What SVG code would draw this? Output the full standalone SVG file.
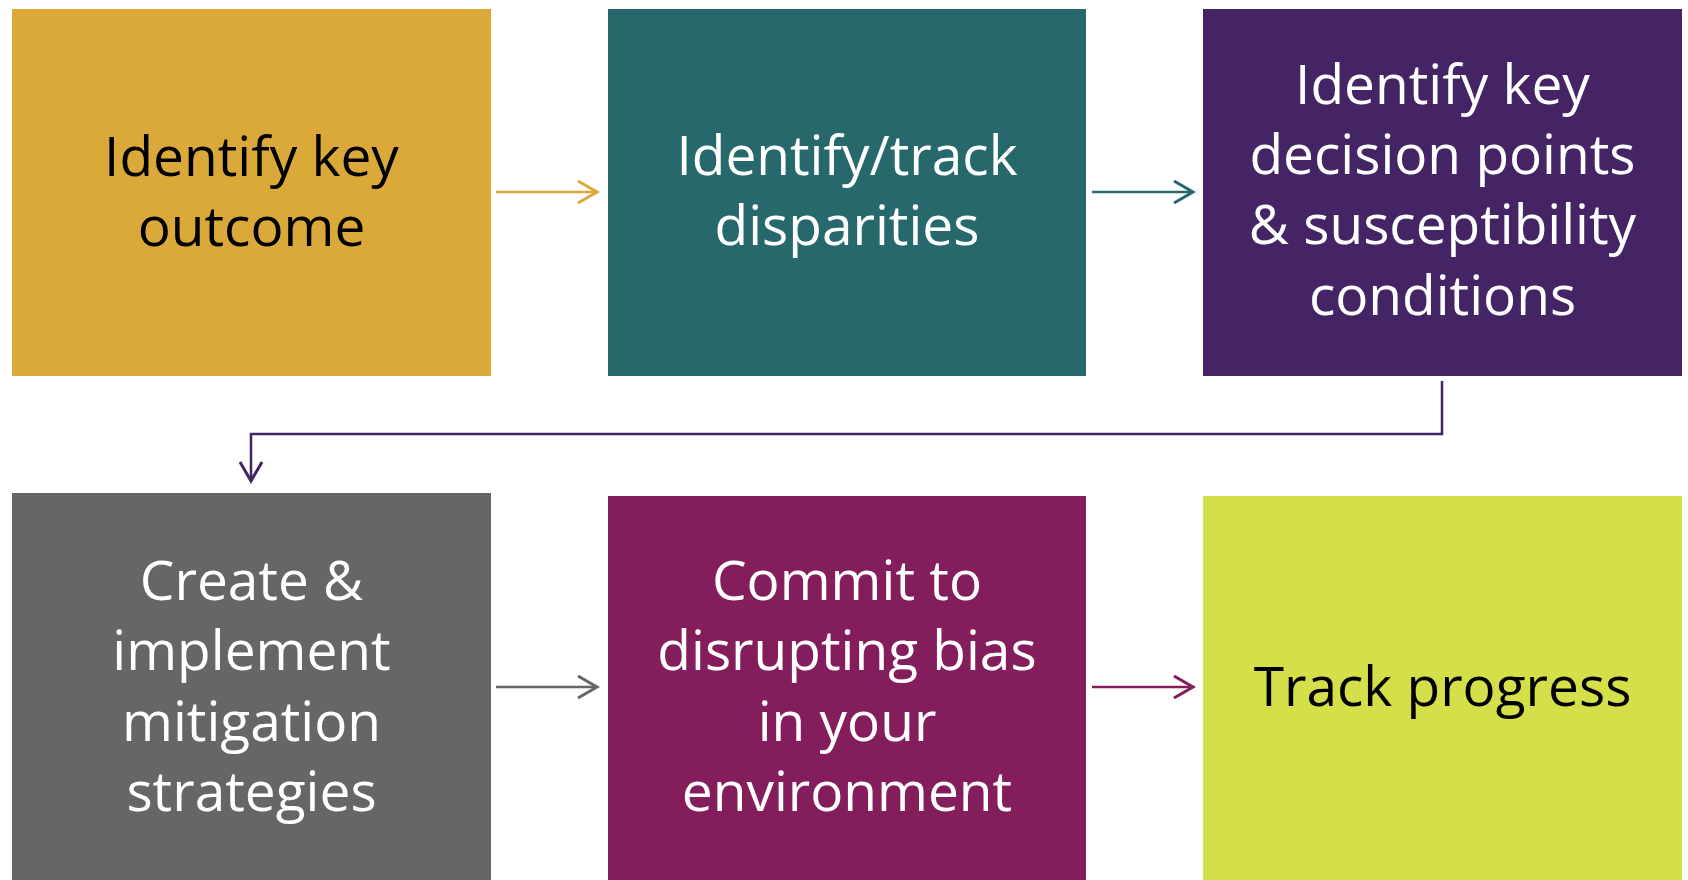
<svg xmlns="http://www.w3.org/2000/svg" width="1688" height="880" viewBox="0 0 1688 880">
<style>
text{font-family:"Open Sans","Liberation Sans",sans-serif;font-size:55px;text-anchor:middle}
.w{fill:#ffffff}.k{fill:#000000}
.c{fill:none;stroke-width:2.5}
</style>
<defs>
<marker id="aGold" markerUnits="userSpaceOnUse" markerWidth="24" markerHeight="26" refX="20" refY="12" orient="auto"><path d="M1,1 L20,12 L1,23" fill="none" stroke="#DBA93A" stroke-width="3"/></marker>
<marker id="aTeal" markerUnits="userSpaceOnUse" markerWidth="24" markerHeight="26" refX="20" refY="12" orient="auto"><path d="M1,1 L20,12 L1,23" fill="none" stroke="#27686D" stroke-width="3"/></marker>
<marker id="aPurple" markerUnits="userSpaceOnUse" markerWidth="24" markerHeight="26" refX="20" refY="12" orient="auto"><path d="M1,1 L20,12 L1,23" fill="none" stroke="#452466" stroke-width="3"/></marker>
<marker id="aGray" markerUnits="userSpaceOnUse" markerWidth="24" markerHeight="26" refX="20" refY="12" orient="auto"><path d="M1,1 L20,12 L1,23" fill="none" stroke="#666666" stroke-width="3"/></marker>
<marker id="aMag" markerUnits="userSpaceOnUse" markerWidth="24" markerHeight="26" refX="20" refY="12" orient="auto"><path d="M1,1 L20,12 L1,23" fill="none" stroke="#841D5B" stroke-width="3"/></marker>
</defs>
<rect width="1688" height="880" fill="#ffffff"/>
<g id="n1"><rect x="12" y="9" width="479" height="367" fill="#DBA93A"/>
<text class="k" x="251.5" y="176">Identify key</text><text class="k" x="251.5" y="246">outcome</text></g>
<g id="n2"><rect x="608" y="9" width="478" height="367" fill="#27686D"/>
<text class="w" x="847" y="175">Identify/track</text><text class="w" x="847" y="245">disparities</text></g>
<g id="n3"><rect x="1203" y="9" width="479" height="367" fill="#452466"/>
<text class="w" x="1442.5" y="104">Identify key</text><text class="w" x="1442.5" y="174">decision points</text><text class="w" x="1442.5" y="244">&amp; susceptibility</text><text class="w" x="1442.5" y="315">conditions</text></g>
<g id="n4"><rect x="12" y="493" width="479" height="387" fill="#666666"/>
<text class="w" x="251.5" y="600">Create &amp;</text><text class="w" x="251.5" y="670">implement</text><text class="w" x="251.5" y="741">mitigation</text><text class="w" x="251.5" y="811">strategies</text></g>
<g id="n5"><rect x="608" y="496" width="478" height="384" fill="#841D5B"/>
<text class="w" x="847" y="600">Commit to</text><text class="w" x="847" y="670">disrupting bias</text><text class="w" x="847" y="741">in your</text><text class="w" x="847" y="811">environment</text></g>
<g id="n6"><rect x="1203" y="496" width="479" height="384" fill="#D4DF4A"/>
<text class="k" x="1442.5" y="706">Track progress</text></g>
<g id="connectors">
<path class="c" d="M496,192 H597" stroke="#DBA93A" marker-end="url(#aGold)"/>
<path class="c" d="M1092,192 H1193" stroke="#27686D" marker-end="url(#aTeal)"/>
<path class="c" d="M1442,381 V434 H251 V481" stroke="#452466" marker-end="url(#aPurple)"/>
<path class="c" d="M496,687 H597" stroke="#666666" marker-end="url(#aGray)"/>
<path class="c" d="M1092,687 H1193" stroke="#841D5B" marker-end="url(#aMag)"/>
</g>
</svg>
